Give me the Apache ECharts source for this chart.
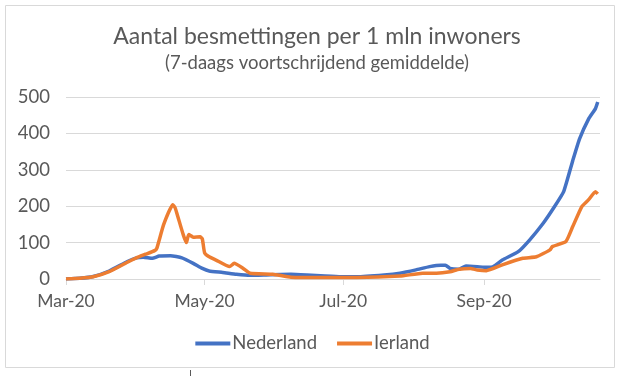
<!DOCTYPE html>
<html>
<head>
<meta charset="utf-8">
<script src="https://cdn.jsdelivr.net/npm/echarts@6/dist/echarts.min.js"></script>
<style>
  html, body { margin: 0; padding: 0; background: #fff; }
  #chart { width: 625px; height: 376px; }
</style>
</head>
<body>
<div id="chart"></div>
<script>
// Nederland, 7-daags gemiddelde per 1 mln inwoners
var nlDates = ['2020-03-01','2020-03-07','2020-03-13','2020-03-20','2020-03-28','2020-04-01','2020-04-04','2020-04-08',
  '2020-04-11','2020-04-16','2020-04-21','2020-04-26','2020-04-30','2020-05-03','2020-05-09','2020-05-15','2020-05-21',
  '2020-05-30','2020-06-08','2020-06-15','2020-06-23','2020-06-30','2020-07-07','2020-07-19','2020-07-26','2020-08-02',
  '2020-08-08','2020-08-13','2020-08-15','2020-08-17','2020-08-21','2020-08-24','2020-08-29','2020-09-01','2020-09-04',
  '2020-09-06','2020-09-09','2020-09-16','2020-09-21','2020-09-27','2020-10-02','2020-10-06','2020-10-10','2020-10-13',
  '2020-10-17','2020-10-20','2020-10-21'];
var nlValues = [0, 2, 7, 22, 48, 58, 60, 57,
  63, 64, 58, 43, 29, 22, 18, 13, 10,
  12, 13, 11, 8, 6, 6, 11, 16, 25,
  34, 38, 38, 29, 27, 36, 34, 32, 32,
  38, 52, 75, 107, 153, 199, 240, 325, 385,
  440, 468, 486];

// Ierland
var ieDates = ['2020-03-01','2020-03-07','2020-03-13','2020-03-20','2020-03-28','2020-04-01','2020-04-05','2020-04-09',
  '2020-04-10','2020-04-13','2020-04-17','2020-04-18','2020-04-19','2020-04-23','2020-04-24','2020-04-26','2020-04-29',
  '2020-04-30','2020-05-01','2020-05-03','2020-05-06','2020-05-12','2020-05-14','2020-05-18','2020-05-21','2020-05-31',
  '2020-06-08','2020-06-23','2020-07-07','2020-07-26','2020-08-05','2020-08-11','2020-08-17','2020-08-21','2020-08-26',
  '2020-08-29','2020-09-02','2020-09-09','2020-09-18','2020-09-24','2020-09-30','2020-10-01','2020-10-07','2020-10-10',
  '2020-10-14','2020-10-17','2020-10-20','2020-10-21'];
var ieValues = [0, 2, 6, 20, 46, 58, 68, 78,
  85, 150, 204, 196, 176, 100, 122, 115, 116,
  110, 72, 61, 52, 34, 43, 29, 16, 13,
  5, 4, 4, 8, 16, 16, 20, 27, 29,
  25, 23, 39, 57, 61, 80, 89, 103, 144,
  199, 218, 240, 234];

var xTicks = ['2020-03-01', '2020-05-01', '2020-07-01', '2020-09-01'];
var xStart = '2020-03-01';
var xEnd = '2020-10-22';
var months = ['Jan','Feb','Mar','Apr','May','Jun','Jul','Aug','Sep','Oct','Nov','Dec'];

// x is counted in days since 1 March 2020
var DAY = 86400000;
function dayOf(s) {
  var p = s.split('-');
  return Math.round((Date.UTC(+p[0], +p[1] - 1, +p[2]) - Date.UTC(2020, 2, 1)) / DAY);
}
function pairs(dates, vals) {
  return dates.map(function (d, i) { return [dayOf(d), vals[i]]; });
}

var font = 'Lato, "Open Sans", sans-serif';
var chart = echarts.init(document.getElementById('chart'));
chart.setOption({
  animation: false,
  textStyle: { fontFamily: font },
  title: {
    text: 'Aantal besmettingen per 1 mln inwoners',
    subtext: '(7-daags voortschrijdend gemiddelde)',
    left: 312, textAlign: 'center', top: 20, itemGap: 6,
    textStyle: { fontFamily: font, fontSize: 23, fontWeight: 'normal', color: '#595959' },
    subtextStyle: { fontFamily: font, fontSize: 18.5, color: '#595959' }
  },
  legend: {
    bottom: 18, left: 'center',
    itemWidth: 35, itemHeight: 4, itemGap: 20,
    icon: 'rect',
    textStyle: { fontFamily: font, fontSize: 18.5, color: '#595959', padding: [0, 0, 0, -3] },
    data: ['Nederland', 'Ierland']
  },
  grid: { left: 66, right: 25, top: 97, bottom: 97, containLabel: false },
  xAxis: {
    type: 'value',
    min: dayOf(xStart),
    max: dayOf(xEnd),
    axisLine: { lineStyle: { color: '#d9d9d9', width: 1 } },
    axisTick: { show: true, length: 6, customValues: xTicks.map(dayOf), lineStyle: { color: '#d9d9d9' } },
    axisLabel: {
      customValues: xTicks.map(dayOf),
      fontSize: 17.5, color: '#595959', margin: 13, fontFamily: font,
      formatter: function (v) {
        var d = new Date(Date.UTC(2020, 2, 1) + v * DAY);
        return months[d.getUTCMonth()] + '-20';
      }
    },
    splitLine: { show: false }
  },
  yAxis: {
    type: 'value', min: 0, max: 500, interval: 100,
    axisLine: { show: false },
    axisTick: { show: false },
    axisLabel: { fontSize: 18.5, color: '#595959', margin: 16, fontFamily: font },
    splitLine: { lineStyle: { color: '#d9d9d9', width: 1 } }
  },
  graphic: [
    { type: 'rect', shape: { x: 5.5, y: 5.5, width: 609, height: 362 },
      style: { fill: 'none', stroke: '#d9d9d9', lineWidth: 1 }, silent: true },
    { type: 'line', shape: { x1: 190.5, y1: 370, x2: 190.5, y2: 376 },
      style: { stroke: '#595959', lineWidth: 1 }, silent: true }
  ],
  series: [
    { name: 'Nederland', type: 'line', data: pairs(nlDates, nlValues), showSymbol: false,
      smooth: 0.15, itemStyle: { color: '#4472C4' }, lineStyle: { width: 3.5, color: '#4472C4' } },
    { name: 'Ierland', type: 'line', data: pairs(ieDates, ieValues), showSymbol: false,
      smooth: 0.15, itemStyle: { color: '#ED7D31' }, lineStyle: { width: 3.5, color: '#ED7D31' } }
  ]
});
</script>
</body>
</html>
